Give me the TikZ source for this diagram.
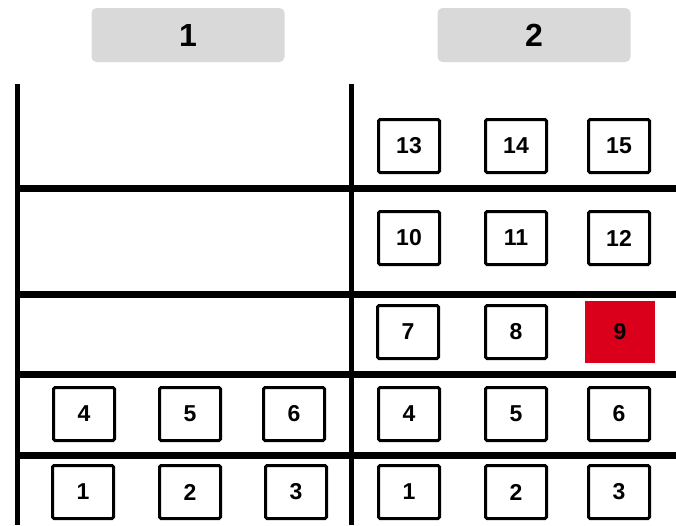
\documentclass[tikz,border=0pt]{standalone}
\usepackage{fontspec}
\setmainfont{Liberation Sans}
\usepackage{tikz}
\definecolor{headfill}{RGB}{217,217,217}
\definecolor{hotfill}{RGB}{218,0,28}

\begin{document}
\begin{tikzpicture}[
  x=1pt, y=-1pt,
  headbox/.style={fill=headfill, rounded corners=5pt, minimum width=193pt,
                  minimum height=54pt, inner sep=0pt,
                  font=\fontsize{32}{32}\selectfont\bfseries},
  slotbox/.style={draw=black, line width=3pt, fill=white, rounded corners=1.5pt,
                  minimum width=61pt, minimum height=53pt, inner sep=0pt,
                  font=\fontsize{23}{23}\selectfont\bfseries},
  hotbox/.style={slotbox, draw=none, fill=hotfill, rounded corners=0pt,
                 minimum width=70pt, minimum height=62pt},
  wall/.style={line width=5pt},
  shelf/.style={line width=7pt},
]
\useasboundingbox (0,0) rectangle (676,525);

% =================================================================
%  HEADERS
% =================================================================
\node[headbox] (head1) at (188,35) {1};
\node[headbox] (head2) at (534,35) {2};

% =================================================================
%  FRAME
% =================================================================
\draw[wall] (17,84) -- (17,525);
\draw[wall] (351,84) -- (351,525);
\foreach \y in {188,294,374,455}
  \draw[shelf] (15,\y) -- (676,\y);

% =================================================================
%  COLUMN 1
% =================================================================
\foreach \n/\x/\y in {1/83/492, 2/190/492, 3/296/492,
                      4/84/414, 5/190/414, 6/294/414}
  \node[slotbox] (left\n) at (\x,\y) {\n};

% =================================================================
%  COLUMN 2
% =================================================================
\foreach \n/\x/\y in {1/409/492, 2/516/492, 3/619/492,
                      4/409/414, 5/516/414, 6/619/414,
                      7/408/332, 8/516/332,
                      10/409/238, 11/516/238, 12/619/238,
                      13/409/146, 14/516/146, 15/619/146}
  \node[slotbox] (right\n) at (\x,\y) {\n};
\node[hotbox] (right9) at (620,332) {9};

\end{tikzpicture}
\end{document}
